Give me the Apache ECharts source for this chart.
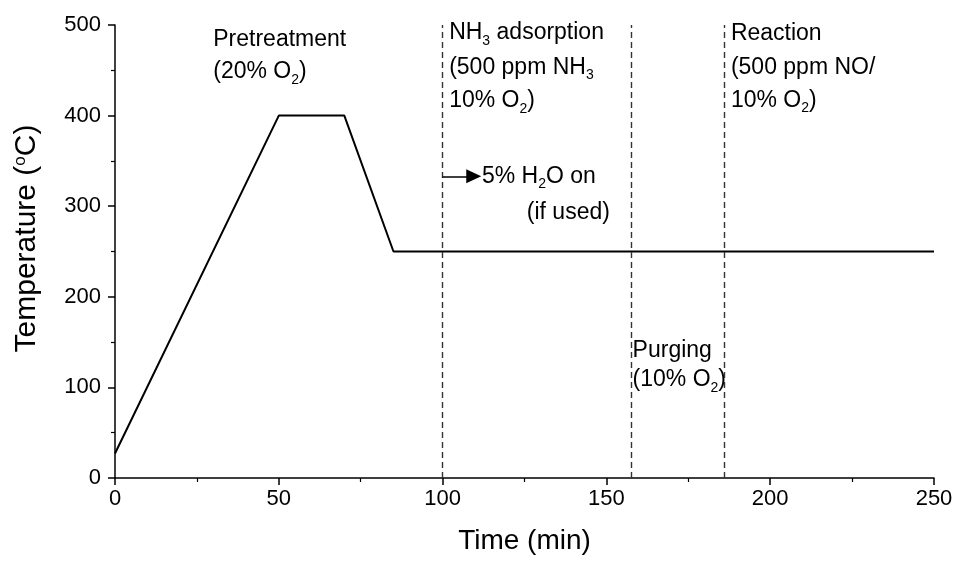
<!DOCTYPE html>
<html>
<head>
<meta charset="utf-8">
<script src="https://cdn.jsdelivr.net/npm/echarts@6/dist/echarts.min.js"></script>
<style>html,body{margin:0;padding:0;background:#fff;}#c{width:958px;height:561px;}</style>
</head>
<body>
<div id="c"></div>
<script>
// Temperature program (time in min, temperature in °C)
const profileTime = [0, 50, 70, 85, 250];
const profileTemp = [27, 400, 400, 250, 250];
// Stage boundaries (min)
const stageBoundaries = [100, 157.5, 186];
// H2O-on arrow (time from, time to, temperature level)
const arrowFrom = [100, 333];
const arrowTo = [109.5, 333];
// Axis ticks
const xTicks = [0, 50, 100, 150, 200, 250];
const yTicks = [0, 100, 200, 300, 400, 500];
// Annotation lines: [time, temperature, text]
const annotations = [
  [30, 484, 'Pretreatment'],
  [30, 448, '(20% O{s|2})'],
  [102, 491, 'NH{s|3} adsorption'],
  [102, 453, '(500 ppm NH{s|3}'],
  [102, 416, '10% O{s|2})'],
  [188, 490, 'Reaction'],
  [188, 453, '(500 ppm NO/'],
  [188, 417, '10% O{s|2})'],
  [112, 333, '5% H{s|2}O on'],
  [125.7, 292.5, '(if used)'],
  [158, 141, 'Purging'],
  [158, 108, '(10% O{s|2})']
];

const FONT = 'Liberation Sans, Arial, sans-serif';
const chart = echarts.init(document.getElementById('c'));
const lineData = profileTime.map((t, i) => [t, profileTemp[i]]);

chart.setOption({
  animation: false,
  backgroundColor: '#fff',
  grid: {left: 115, right: 24, top: 25, bottom: 83, containLabel: false},
  xAxis: {
    type: 'value', min: xTicks[0], max: xTicks[xTicks.length - 1], interval: 50,
    name: 'Time (min)', nameLocation: 'middle', nameGap: 49,
    nameTextStyle: {fontFamily: FONT, fontSize: 28, color: '#000'},
    axisLine: {show: true, onZero: false, lineStyle: {color: '#000', width: 1.5}},
    axisTick: {show: true, inside: false, length: 7, lineStyle: {color: '#000', width: 1.5}},
    minorTick: {show: true, splitNumber: 2, length: 4, lineStyle: {color: '#000', width: 1.2}},
    axisLabel: {fontFamily: FONT, fontSize: 22, color: '#000', margin: 10},
    splitLine: {show: false}
  },
  yAxis: {
    type: 'value', min: yTicks[0], max: yTicks[yTicks.length - 1], interval: 100,
    name: 'Temperature ({sup|o}C)', nameLocation: 'middle', nameGap: 73,
    nameTextStyle: {fontFamily: FONT, fontSize: 30, color: '#000', padding: [0, 0, 0, 26],
      rich: {sup: {fontFamily: FONT, fontSize: 17, verticalAlign: 'top', lineHeight: 17, color: '#000'}}},
    axisLine: {show: true, onZero: false, lineStyle: {color: '#000', width: 1.5}},
    axisTick: {show: true, inside: false, length: 7, lineStyle: {color: '#000', width: 1.5}},
    minorTick: {show: true, splitNumber: 2, length: 4, lineStyle: {color: '#000', width: 1.2}},
    axisLabel: {fontFamily: FONT, fontSize: 22, color: '#000', margin: 14},
    splitLine: {show: false}
  },
  series: [
    {
      type: 'line', data: lineData, symbol: 'none',
      lineStyle: {color: '#000', width: 2}, z: 3,
      markLine: {
        silent: true, symbol: ['none', 'none'], label: {show: false},
        lineStyle: {color: '#333', width: 1.4, type: [6, 4], opacity: 1},
        data: stageBoundaries.map(v => ({xAxis: v}))
      }
    },
    {
      type: 'line', data: [], symbol: 'none',
      markLine: {
        silent: true, symbol: ['none', 'triangle'], symbolSize: [14, 15], label: {show: false},
        lineStyle: {color: '#000', width: 1.5, type: 'solid', opacity: 1},
        itemStyle: {color: '#000'},
        data: [[{coord: arrowFrom}, {coord: arrowTo}]]
      }
    },
    {
      type: 'scatter', symbolSize: 0, clip: false, silent: true,
      itemStyle: {opacity: 1, color: '#000'},
      data: annotations.map(a => ({value: [a[0], a[1]], label: {formatter: a[2]}})),
      label: {
        show: true, position: 'right', distance: 0, align: 'left', verticalAlign: 'middle',
        fontFamily: FONT, fontSize: 23, lineHeight: 30, color: '#000',
        rich: {s: {fontFamily: FONT, fontSize: 14, lineHeight: 14, verticalAlign: 'bottom', color: '#000'}}
      }
    }
  ]
});
</script>
</body>
</html>
